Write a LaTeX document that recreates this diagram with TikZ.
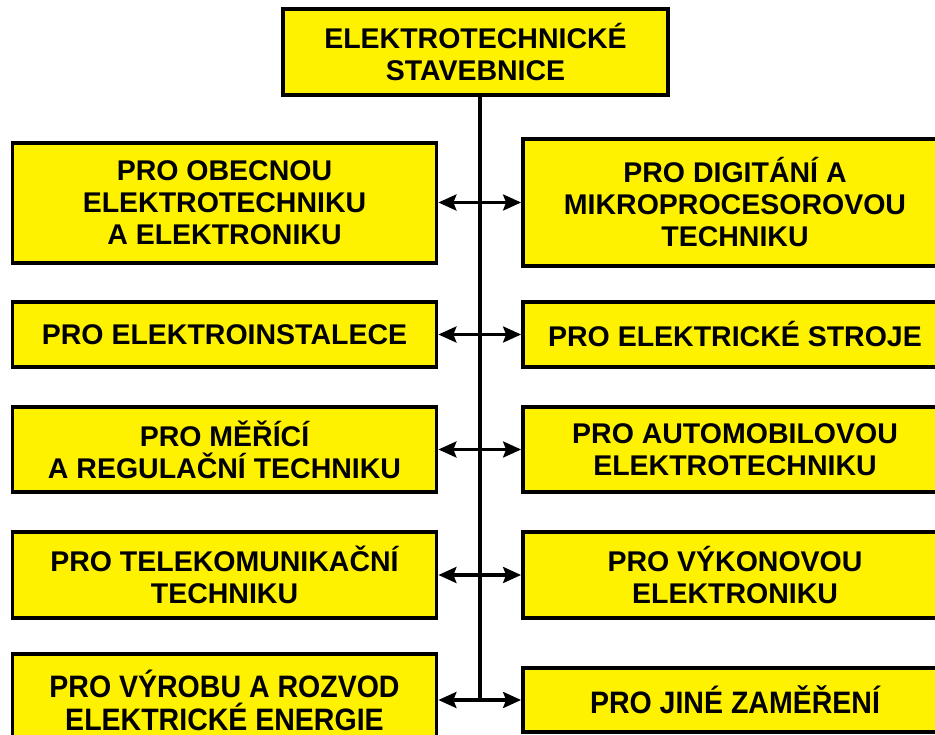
\documentclass[tikz,border=0pt]{standalone}
\usepackage{fontspec}
\setmainfont{Liberation Sans}
\newfontfamily\narrowsans[FakeStretch=0.92]{Liberation Sans}
\usetikzlibrary{arrows.meta,positioning}

\begin{document}
\begin{tikzpicture}[x=1pt, y=-1pt, font=\bfseries\fontsize{28.5}{32}\selectfont]
\tikzstyle{box}=[rectangle, draw, line width=3.8pt, fill=yellow, align=center, inner sep=0pt, minimum width=424pt]
\tikzstyle{link}=[line width=3.2pt, {Stealth[length=18pt,width=16pt,inset=3pt]}-{Stealth[length=18pt,width=16pt,inset=3pt]}]
\tikzstyle{narrow}=[font=\narrowsans\bfseries\fontsize{31}{33}\selectfont]
\useasboundingbox (0,0) rectangle (935,735);
\clip (0,0) rectangle (935,735);
% head of the tree
\node[box, minimum width=385pt, minimum height=86pt] (kit) at (475.5,52) {ELEKTROTECHNICKÉ\\STAVEBNICE};
% left column
\node[box, minimum height=120pt] (obec) at (224.5,203) {PRO OBECNOU\\ELEKTROTECHNIKU\\A ELEKTRONIKU};
\node[box, minimum height=65pt] (inst) at (224.5,334.5) {PRO ELEKTROINSTALECE};
\node[box, minimum height=85pt] (meri) at (224.5,449.5) {PRO MĚŘÍCÍ\\A REGULAČNÍ TECHNIKU};
\node[box, minimum height=86pt] (tele) at (224.5,575) {PRO TELEKOMUNIKAČNÍ\\TECHNIKU};
\node[box, narrow, minimum height=92pt] (vyrb) at (224.5,700) {PRO VÝROBU A ROZVOD\\ELEKTRICKÉ ENERGIE};
% right column
\node[box, minimum height=127pt] (digi) at (735,202.5) {PRO DIGITÁNÍ A\\MIKROPROCESOROVOU\\TECHNIKU};
\node[box, minimum height=65pt] (stro) at (735,334.5) {PRO ELEKTRICKÉ STROJE};
\node[box, minimum height=85pt] (auto) at (735,449.5) {PRO AUTOMOBILOVOU\\ELEKTROTECHNIKU};
\node[box, minimum height=86pt] (vyko) at (735,575) {PRO VÝKONOVOU\\ELEKTRONIKU};
\node[box, narrow, minimum height=64pt] (jine) at (735,700) {PRO JINÉ ZAMĚŘENÍ};
% trunk and branches
\coordinate (trunk) at (480,700);
\draw[line width=3.2pt] (kit.south -| trunk) -- (trunk);
\draw[link] (obec.east |- digi.west) -- (digi.west);
\draw[link] (inst.east) -- (stro.west);
\draw[link] (meri.east) -- (auto.west);
\draw[link] (tele.east) -- (vyko.west);
\draw[link] (vyrb.east |- trunk) -- (jine.west |- trunk);
\end{tikzpicture}
\end{document}
